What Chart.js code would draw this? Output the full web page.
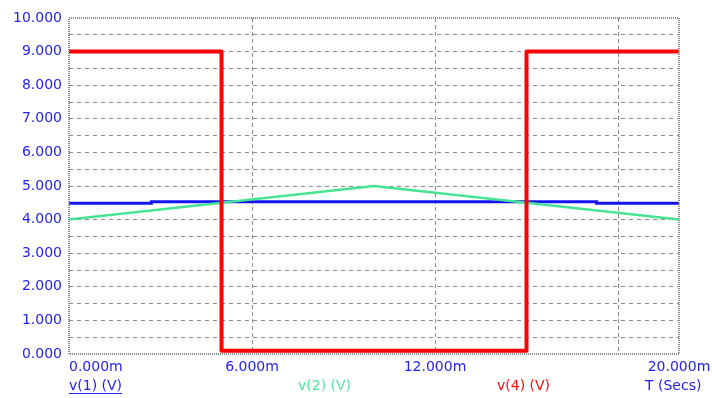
<!DOCTYPE html>
<html>
<head>
<meta charset="utf-8">
<script src="https://cdn.jsdelivr.net/npm/chart.js@4"></script>
<style>
  html, body { margin: 0; padding: 0; background: #fff; }
  #wrap { width: 712px; height: 398px; }
</style>
</head>
<body>
<div id="wrap"><canvas id="c"></canvas></div>
<script>
// time in ms, values in volts
const v1Time = [0, 2.7, 2.7, 17.3, 17.3, 20];
const v1Vals = [4.49, 4.49, 4.53, 4.53, 4.49, 4.49];
const v2Time = [0, 10, 20];
const v2Vals = [4.0, 5.0, 4.0];
const v4Time = [0, 5, 5, 15, 15, 20];
const v4Vals = [9, 9, 0.1, 0.1, 9, 9];

const yLabels = [0, 1, 2, 3, 4, 5, 6, 7, 8, 9, 10];
const xLabels = [0, 6, 12, 20];
const xGrid = [6, 12, 18];
const yGrid = [0.5, 1, 1.5, 2, 2.5, 3, 3.5, 4, 4.5, 5, 5.5, 6, 6.5, 7, 7.5, 8, 8.5, 9, 9.5];

const legendItems = [
  { text: "v(1) (V)", color: "#1f1fee", x: 69, underline: true },
  { text: "v(2) (V)", color: "#4fe49a", x: 298 },
  { text: "v(4) (V)", color: "#f01010", x: 497 },
  { text: "T (Secs)", color: "#1f1fee", x: 645 },
];

const toPoints = (t, v) => t.map((x, i) => ({ x: x, y: v[i] }));
const font = "14px 'DejaVu Sans'";

// labels, frame and legend row like the simulator output
const decorPlugin = {
  id: "decor",
  afterDraw: (chart) => {
    const ctx = chart.ctx;
    const area = chart.chartArea;
    const xs = chart.scales.x;
    const ys = chart.scales.y;

    ctx.save();
    ctx.strokeStyle = "#8a8a8a";
    ctx.lineWidth = 2;
    ctx.setLineDash([1, 1]);
    ctx.strokeRect(area.left, area.top, area.right - area.left, area.bottom - area.top);
    ctx.setLineDash([]);

    ctx.font = font;
    ctx.fillStyle = "#1f1fee";
    ctx.textAlign = "right";
    ctx.textBaseline = "middle";
    yLabels.forEach((v) => {
      ctx.fillText(v.toFixed(3), area.left - 7, ys.getPixelForValue(v));
    });

    xLabels.forEach((v, i) => {
      ctx.textAlign = i === 0 ? "left" : "center";
      ctx.fillText(v.toFixed(3) + "m", xs.getPixelForValue(v), area.bottom + 13);
    });

    ctx.textAlign = "left";
    legendItems.forEach((item) => {
      ctx.fillStyle = item.color;
      ctx.fillText(item.text, item.x, area.bottom + 32);
      if (item.underline) {
        const w = ctx.measureText(item.text).width;
        ctx.fillRect(item.x, area.bottom + 39, w, 1);
      }
    });
    ctx.restore();
  },
};

new Chart(document.getElementById("c").getContext("2d"), {
  type: "scatter",
  data: {
    datasets: [
      {
        label: "v(1) (V)",
        data: toPoints(v1Time, v1Vals),
        showLine: true,
        borderColor: "#1414f0",
        borderWidth: 3,
        pointRadius: 0,
      },
      {
        label: "v(2) (V)",
        data: toPoints(v2Time, v2Vals),
        showLine: true,
        borderColor: "#45e494",
        borderWidth: 2.5,
        pointRadius: 0,
      },
      {
        label: "v(4) (V)",
        data: toPoints(v4Time, v4Vals),
        showLine: true,
        borderColor: "#ff0000",
        borderWidth: 4,
        borderJoinStyle: "round",
        pointRadius: 0,
      },
    ].reverse(),
  },
  options: {
    responsive: true,
    maintainAspectRatio: false,
    animation: false,
    events: [],
    layout: { padding: { left: 69, right: 33, top: 18, bottom: 44 } },
    scales: {
      x: {
        type: "linear",
        min: 0,
        max: 20,
        afterBuildTicks: (scale) => {
          scale.ticks = xGrid.map((v) => ({ value: v }));
        },
        ticks: { display: false },
        grid: { color: "#8a8a8a", drawTicks: false },
        border: { display: false, dash: [4, 3] },
      },
      y: {
        min: 0,
        max: 10,
        afterBuildTicks: (scale) => {
          scale.ticks = yGrid.map((v) => ({ value: v }));
        },
        ticks: { display: false },
        grid: { color: "#8a8a8a", drawTicks: false },
        border: { display: false, dash: [4, 4] },
      },
    },
    plugins: {
      legend: { display: false },
      tooltip: { enabled: false },
    },
  },
  plugins: [decorPlugin],
});
</script>
</body>
</html>
